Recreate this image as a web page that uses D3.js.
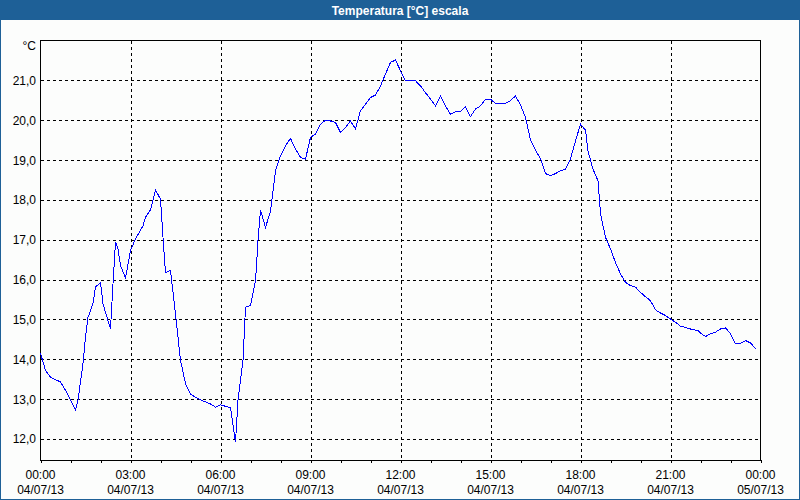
<!DOCTYPE html>
<html>
<head>
<meta charset="utf-8">
<script src="https://cdn.jsdelivr.net/npm/d3@7"></script>
<style>
  html, body { margin: 0; padding: 0; background: #fcfdfc; }
  svg { display: block; }
  text { font-family: "Liberation Sans", Arial, sans-serif; }
</style>
</head>
<body>
<svg id="chart" width="800" height="500"></svg>
<script>
// ---- data ----
const title = "Temperatura [°C] escala";
const unitLabel = "°C";
// minutes after 04/07/13 00:00
const minutes = [0,10,20,40,50,60,70,75,85,90,95,105,110,120,125,140,145,150,155,160,170,180,190,205,210,220,230,240,245,250,260,270,280,290,300,320,340,350,360,370,380,390,395,405,410,420,430,435,440,450,460,470,480,490,500,510,520,530,540,550,560,570,580,590,600,610,620,630,640,650,660,670,680,690,700,710,720,730,750,760,770,780,790,800,810,820,830,840,850,860,870,880,890,900,910,930,940,950,960,970,980,990,1000,1010,1020,1030,1040,1050,1060,1070,1080,1090,1095,1105,1115,1120,1130,1140,1150,1160,1170,1180,1190,1200,1210,1220,1230,1240,1250,1260,1270,1280,1290,1300,1315,1320,1330,1340,1350,1360,1370,1380,1390,1400,1410,1420,1430];
const temps = [14.15,13.72,13.55,13.43,13.22,12.97,12.72,12.97,13.9,14.55,15.05,15.4,15.81,15.93,15.39,14.76,15.9,16.95,16.77,16.35,16.04,16.73,17.02,17.35,17.56,17.75,18.25,18.02,17.06,16.17,16.23,15.14,13.97,13.39,13.12,12.98,12.88,12.80,12.86,12.82,12.78,11.92,12.97,13.97,15.31,15.35,15.97,16.98,17.75,17.31,17.71,18.73,19.11,19.36,19.54,19.28,19.07,19.02,19.57,19.65,19.90,20.0,19.98,19.94,19.69,19.82,19.98,19.78,20.24,20.40,20.57,20.63,20.86,21.16,21.45,21.51,21.24,20.99,20.99,20.86,20.69,20.53,20.36,20.61,20.36,20.15,20.21,20.21,20.34,20.09,20.28,20.36,20.53,20.53,20.42,20.42,20.49,20.61,20.38,20.07,19.50,19.25,19.03,18.66,18.61,18.66,18.73,18.77,19.03,19.48,19.90,19.75,19.23,18.77,18.48,17.65,17.06,16.77,16.43,16.14,15.93,15.85,15.81,15.68,15.57,15.47,15.24,15.16,15.10,15.01,14.93,14.83,14.80,14.76,14.72,14.66,14.57,14.64,14.68,14.76,14.79,14.64,14.39,14.40,14.47,14.41,14.27];
const yTicks = [12,13,14,15,16,17,18,19,20,21];
const xTickHours = [0,3,6,9,12,15,18,21,24];
const xTimeLabels = ["00:00","03:00","06:00","09:00","12:00","15:00","18:00","21:00","00:00"];
const xDateLabels = ["04/07/13","04/07/13","04/07/13","04/07/13","04/07/13","04/07/13","04/07/13","04/07/13","05/07/13"];
const yDomain = [11.46, 22.0];
const xDomainMinutes = [0, 1440];

// ---- layout ----
const svg = d3.select("#chart");
const W = 800, H = 500;
const plot = { left: 40.5, right: 760.5, top: 40.5, bottom: 460.5 };
const x = d3.scaleLinear().domain(xDomainMinutes).range([plot.left, plot.right]);
const y = d3.scaleLinear().domain(yDomain).range([plot.bottom, plot.top]);

// background & frame
svg.append("rect").attr("x", 0).attr("y", 0).attr("width", W).attr("height", H).attr("fill", "#fcfdfc");
svg.append("rect").attr("x", 0).attr("y", 0).attr("width", W).attr("height", 20).attr("fill", "#1e6097");
svg.append("rect").attr("x", 0.5).attr("y", 0.5).attr("width", W - 1).attr("height", H - 1)
  .attr("fill", "none").attr("stroke", "#1e6097");
svg.append("text").attr("x", 400).attr("y", 15).attr("text-anchor", "middle")
  .attr("fill", "#ffffff").attr("font-weight", "bold").attr("font-size", "12px").text(title);

// grid
const grid = svg.append("g").attr("stroke", "#000").attr("stroke-dasharray", "3,3").attr("shape-rendering", "crispEdges");
grid.selectAll("line.h").data(yTicks).join("line")
  .attr("x1", plot.left).attr("x2", plot.right)
  .attr("y1", d => Math.round(y(d)) + 0.5).attr("y2", d => Math.round(y(d)) + 0.5);
grid.selectAll("line.v").data(xTickHours.slice(1, -1)).join("line")
  .attr("x1", d => Math.round(x(d * 60)) + 0.5).attr("x2", d => Math.round(x(d * 60)) + 0.5)
  .attr("y1", plot.top).attr("y2", plot.bottom);

// plot border (left, top, right; bottom via axis)
svg.append("path").attr("fill", "none").attr("stroke", "#000").attr("shape-rendering", "crispEdges")
  .attr("d", `M${plot.left},${plot.bottom}V${plot.top}H${plot.right}V${plot.bottom}`);

// x axis with hourly minor ticks
const xAxis = d3.axisBottom(x).tickValues(d3.range(0, 1441, 60)).tickSize(3).tickFormat("");
const gx = svg.append("g").attr("transform", `translate(0,${plot.bottom - 0.5})`).call(xAxis);
gx.select(".domain").attr("stroke", "#000").attr("d", `M${plot.left},0.5H${plot.right}`).attr("shape-rendering", "crispEdges");
gx.selectAll(".tick line").attr("stroke", "#000").attr("shape-rendering", "crispEdges");

const labels = svg.append("g").attr("font-size", "12px").attr("fill", "#000").attr("text-anchor", "middle");
labels.selectAll("text.t").data(xTickHours).join("text")
  .attr("x", d => x(d * 60)).attr("y", 479).text((d, i) => xTimeLabels[i]);
labels.selectAll("text.d").data(xTickHours).join("text")
  .attr("x", d => x(d * 60)).attr("y", 494).text((d, i) => xDateLabels[i]);

// y labels
const yl = svg.append("g").attr("font-size", "12px").attr("fill", "#000").attr("text-anchor", "end");
yl.selectAll("text").data(yTicks).join("text")
  .attr("x", 36).attr("y", d => y(d) + 4.5).text(d => d3.format(".1f")(d).replace(".", ","));
svg.append("text").attr("x", 36).attr("y", 50).attr("text-anchor", "end").attr("font-size", "12px").text(unitLabel);

// line
const line = d3.line().x((d, i) => x(minutes[i])).y(d => y(d));
svg.append("path").datum(temps).attr("fill", "none").attr("stroke", "#0000ff").attr("stroke-width", 1)
  .attr("shape-rendering", "crispEdges")
  .attr("d", line);
</script>
</body>
</html>
